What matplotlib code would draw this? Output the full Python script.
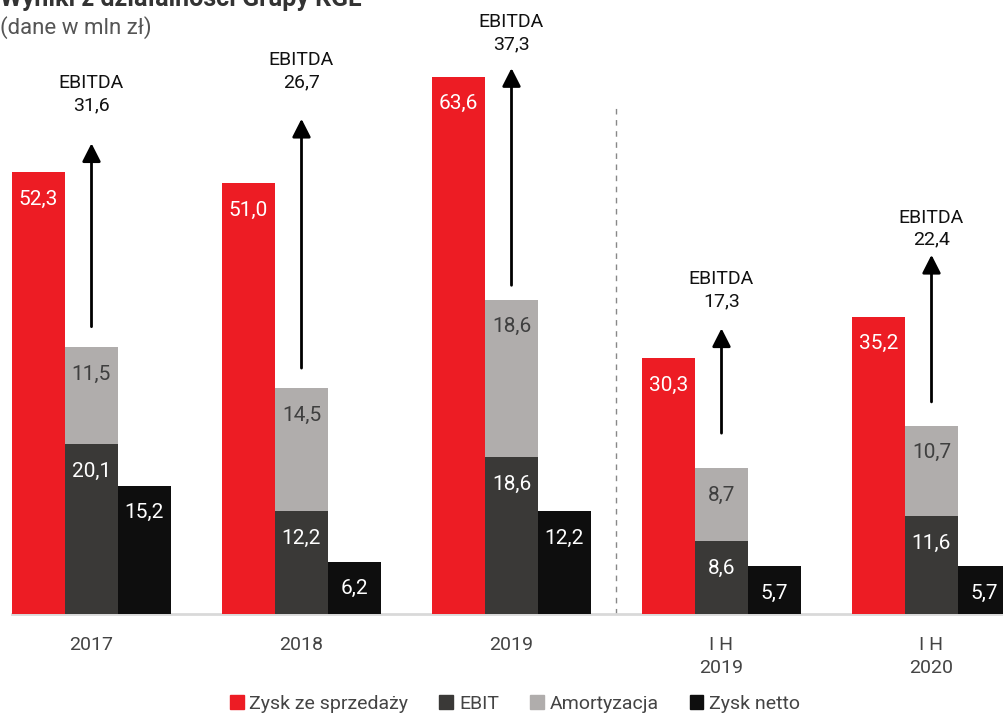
import matplotlib
matplotlib.use("Agg")
import matplotlib.pyplot as plt
import numpy as np

plt.rcParams['font.family'] = ['Roboto', 'DejaVu Sans']

# data (mln zł)
periods = ["2017", "2018", "2019", "I H\n2019", "I H\n2020"]
zysk_sprzedazy = [52.3, 51.0, 63.6, 30.3, 35.2]
ebit = [20.1, 12.2, 18.6, 8.6, 11.6]
amortyzacja = [11.5, 14.5, 18.6, 8.7, 10.7]
zysk_netto = [15.2, 6.2, 12.2, 5.7, 5.7]
ebitda = [31.6, 26.7, 37.3, 17.3, 22.4]

# annotation layout (arrow bottom / tip, EBITDA text centre), in data units
arrow_bottom = [34.0, 29.1, 38.9, 21.4, 25.1]
arrow_tip = [55.7, 58.6, 64.6, 33.8, 42.5]
ebitda_text_y = [61.5, 64.2, 68.7, 38.3, 45.6]

RED = "#ED1C24"
DARK = "#3A3937"
GREY = "#B0ADAC"
BLACK = "#0E0E0E"

def fmt(v):
    return f"{v:.1f}".replace(".", ",")

fig = plt.figure(figsize=(10.04, 7.15), dpi=100)
ax = fig.add_axes([0, 101 / 715, 1, 614 / 715])

x = np.arange(len(periods))
w = 53 / 210

b_red = ax.bar(x - w, zysk_sprzedazy, w, color=RED, zorder=2)
b_ebit = ax.bar(x, ebit, w, color=DARK, zorder=2)
b_am = ax.bar(x, amortyzacja, w, bottom=ebit, color=GREY, zorder=2)
b_net = ax.bar(x + w, zysk_netto, w, color=BLACK, zorder=2)

def label(bars, vals, bottoms, color):
    for b, v, bt in zip(bars, vals, bottoms):
        ax.annotate(fmt(v), (b.get_x() + b.get_width() / 2, bt + v),
                    xytext=(0, -19.5), textcoords="offset points",
                    ha="center", va="center", color=color,
                    fontsize=15, zorder=3)

zeros = [0] * len(x)
label(b_red, zysk_sprzedazy, zeros, "white")
label(b_ebit, ebit, zeros, "white")
label(b_am, amortyzacja, ebit, "#3F3F3F")
label(b_net, zysk_netto, zeros, "white")

for i in range(len(x)):
    ax.annotate("", xy=(x[i], arrow_tip[i]), xytext=(x[i], arrow_bottom[i]),
                arrowprops=dict(arrowstyle="-|>,head_length=0.55,head_width=0.28",
                                lw=2, color="black", mutation_scale=20,
                                shrinkA=0, shrinkB=0))
    ax.text(x[i], ebitda_text_y[i], "EBITDA\n" + fmt(ebitda[i]),
            ha="center", va="center", fontsize=14, linespacing=1.3,
            color="#111111")

# separator between full years and half-years
ax.plot([2.5, 2.5], [0, 60.0], color="#888888", lw=1, ls=(0, (4, 4)), zorder=1)

# baseline
ax.plot([x[0] - 1.5 * w, 5], [0, 0], color="#D9D9D9", lw=2, zorder=1,
        clip_on=False)

ax.set_xlim(-91.5 / 210, (1004 - 91.5) / 210)
ax.set_ylim(0, 614 / 8.45)
ax.set_xticks(x)
ax.set_xticklabels(periods, fontsize=14, color="#444444", linespacing=1.35)
ax.tick_params(axis="x", length=0, pad=16)
ax.set_yticks([])
for s in ax.spines.values():
    s.set_visible(False)

# legend
handles = [plt.Rectangle((0, 0), 1, 1, color=c) for c in (RED, DARK, GREY, BLACK)]
fig.legend(handles, ["Zysk ze sprzedaży", "EBIT", "Amortyzacja", "Zysk netto"],
           loc="center", bbox_to_anchor=(515 / 1004, 1 - 704 / 715), ncol=4,
           frameon=False, fontsize=14, handlelength=0.7, handleheight=0.7,
           handletextpad=0.3, columnspacing=1.6, labelcolor="#444444")

# title (partly cut at top, as in the source) and subtitle
fig.text(0.0, 1 - 6 / 715, "Wyniki z działalności Grupy KGL", fontsize=18,
         fontweight="bold", color="#333333", ha="left", va="baseline")
fig.text(0.0, 1 - 28 / 715, "(dane w mln zł)", fontsize=16, color="#555555",
         ha="left", va="center")

fig.savefig("out.png", dpi=100)
